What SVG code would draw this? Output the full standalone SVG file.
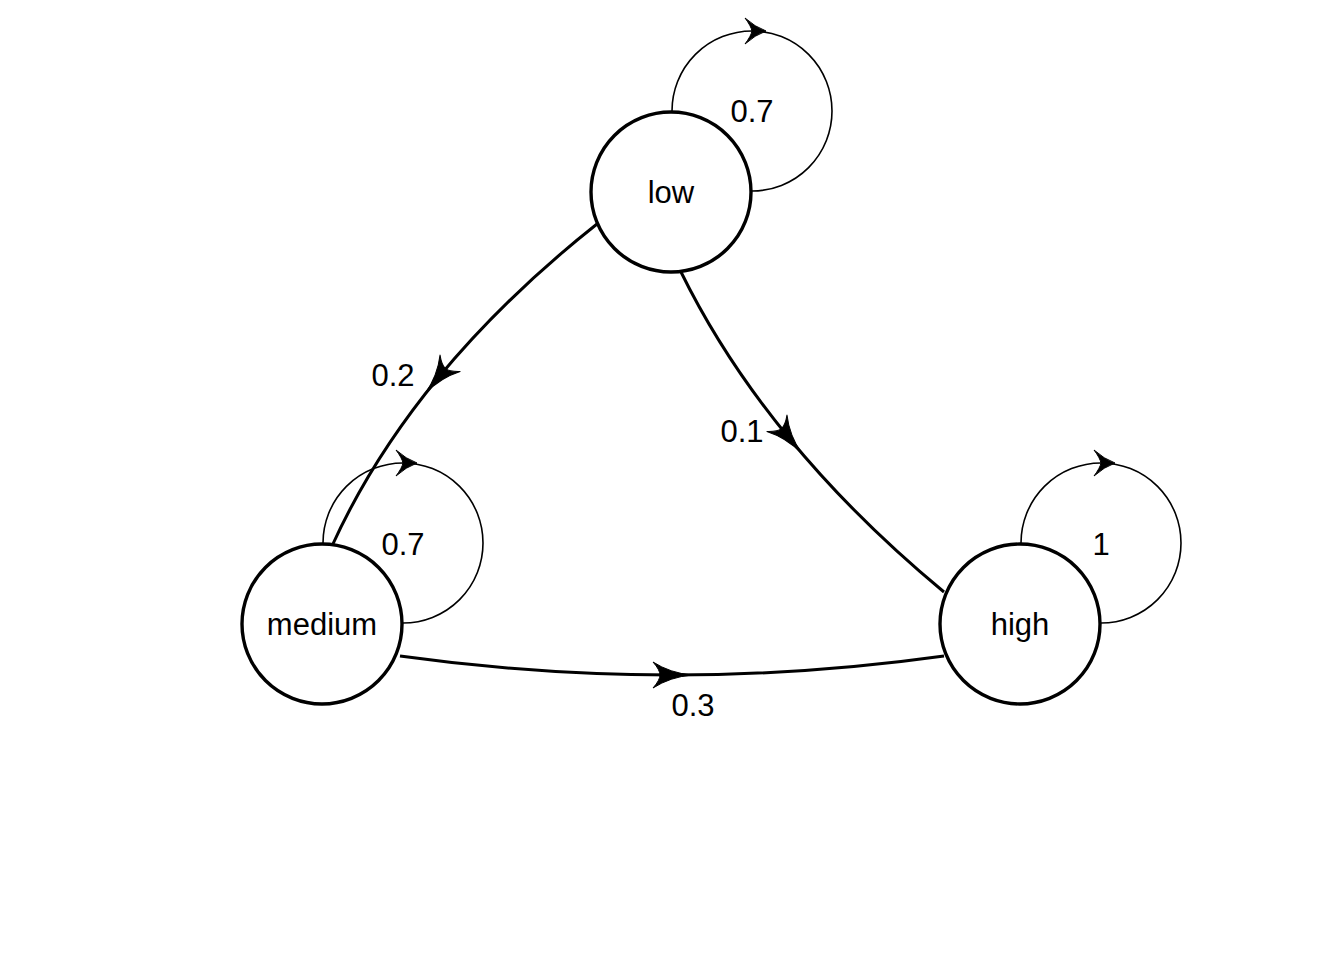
<svg xmlns="http://www.w3.org/2000/svg" width="1344" height="960" viewBox="0 0 1344 960">
  <style>
    .node { fill: #ffffff; stroke: #000000; stroke-width: 3.4; }
    .edge { fill: none; stroke: #000000; stroke-width: 3; marker-mid: url(#arrow-edge); }
    .loop { fill: none; stroke: #000000; stroke-width: 1.6; marker-mid: url(#arrow-loop); }
    text { font-family: "Liberation Sans", Arial, sans-serif; font-size: 31px; fill: #000000; text-anchor: middle; }
  </style>
  <defs>
    <!-- small head for the self loops -->
    <marker id="arrow-loop" markerUnits="userSpaceOnUse" markerWidth="40" markerHeight="40" viewBox="-20 -20 40 40" refX="0" refY="0" orient="auto" overflow="visible">
      <path d="M 14 0 Q 3 -4 -7 -13 Q -1 -5 0 0 Q -1 5 -7 13 Q 3 4 14 0 Z" fill="#000000" stroke="#000000" stroke-width="1" stroke-linejoin="round"/>
    </marker>
    <!-- longer head for the transitions between states -->
    <marker id="arrow-edge" markerUnits="userSpaceOnUse" markerWidth="60" markerHeight="60" viewBox="-30 -30 60 60" refX="0" refY="0" orient="auto" overflow="visible">
      <path d="M 20 0 Q -2 -2 -19 -13 Q -12 -5 -12 0 Q -12 5 -19 13 Q -2 2 20 0 Z" fill="#000000" stroke="#000000" stroke-width="1" stroke-linejoin="round"/>
    </marker>
  </defs>

  <rect width="1344" height="960" fill="#ffffff"/>

  <!-- transitions -->
  <g id="connectors">
    <!-- self loops -->
    <path class="loop" d="M 672 111 A 80 80 0 0 1 752 31 A 80 80 0 1 1 752 191"/>
    <path class="loop" d="M 323 543 A 80 80 0 0 1 403 463 A 80 80 0 1 1 403 623"/>
    <path class="loop" d="M 1021 543 A 80 80 0 0 1 1101 463 A 80 80 0 1 1 1101 623"/>
    <!-- low -> medium -->
    <path class="edge" d="M 597 224 Q 504.25 297.5 438 378 Q 371.75 458.5 332 546"/>
    <!-- low -> high -->
    <path class="edge" d="M 681 272 Q 723.25 358 789 438 Q 854.75 518 944 592"/>
    <!-- medium -> high -->
    <path class="edge" d="M 400 656 Q 536 675 672 675 Q 808 675 944 656"/>
  </g>

  <g id="node-low">
    <circle class="node" cx="671" cy="192" r="80"/>
    <text x="671" y="203">low</text>
  </g>
  <g id="node-medium">
    <circle class="node" cx="322" cy="624" r="80"/>
    <text x="322" y="635">medium</text>
  </g>
  <g id="node-high">
    <circle class="node" cx="1020" cy="624" r="80"/>
    <text x="1020" y="635">high</text>
  </g>

  <g id="edge-labels">
    <text x="752" y="122">0.7</text>
    <text x="403" y="555">0.7</text>
    <text x="1101" y="555">1</text>
    <text x="393" y="386">0.2</text>
    <text x="742" y="442">0.1</text>
    <text x="693" y="716">0.3</text>
  </g>
</svg>
